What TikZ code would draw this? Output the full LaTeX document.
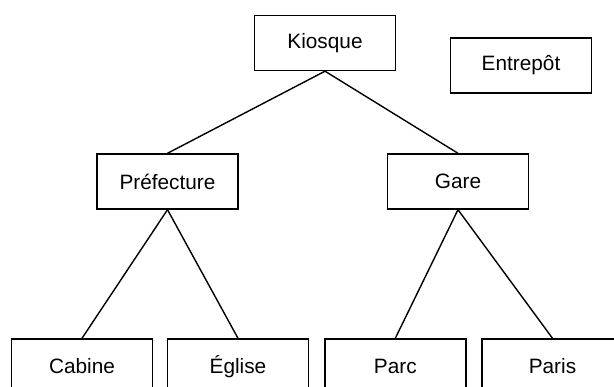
\documentclass[tikz,border=0pt]{standalone}
\usepackage{fontspec}
\setmainfont{Liberation Sans}
\begin{document}
\begin{tikzpicture}[x=1pt,y=-1pt,
  box/.style={draw, line width=1.4pt, minimum width=141pt, minimum height=55pt, inner sep=0pt, font=\fontsize{20.8pt}{24pt}\selectfont},
  link/.style={line width=1.4pt}]
\useasboundingbox[fill=white] (0,0) rectangle (614,387);
\node[box] (kiosque) at (325,43) {Kiosque};
\node[box] (entrepot) at (521,65.5) {Entrepôt};
\node[box] (prefecture) at (167.5,181.5) {Préfecture};
\node[box] (gare) at (458,181.5) {Gare};
\node[box] (cabine) at (82,366.5) {Cabine};
\node[box] (eglise) at (238,366.5) {Église};
\node[box] (parc) at (395.3,366.5) {Parc};
\node[box] (paris) at (552.5,366.5) {Paris};
\draw[link] (kiosque.south) -- (prefecture.north);
\draw[link] (kiosque.south) -- (gare.north);
\draw[link] (prefecture.south) -- (cabine.north);
\draw[link] (prefecture.south) -- (eglise.north);
\draw[link] (gare.south) -- (parc.north);
\draw[link] (gare.south) -- (paris.north);
\end{tikzpicture}
\end{document}
